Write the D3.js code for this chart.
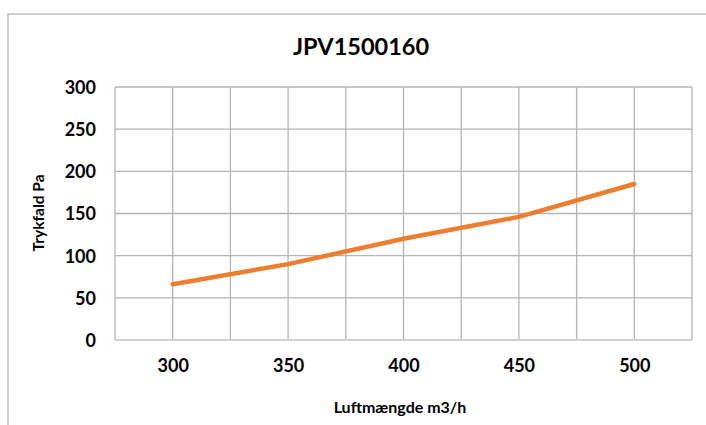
<!DOCTYPE html>
<html><head><meta charset="utf-8">
<script src="https://cdn.jsdelivr.net/npm/d3@7"></script>
<style>
html,body{margin:0;padding:0;background:#fff;}
svg{display:block;font-family:Lato,"Open Sans",sans-serif;}
</style></head>
<body>
<svg id="chart" width="706" height="425"></svg>
<script>
const title = "JPV1500160";
const xLabel = "Luftmængde m3/h";
const yLabel = "Trykfald Pa";
const flow = [300, 350, 400, 450, 500];
const pressure = [66, 90, 120, 146, 185];
const xTickLabels = [300, 350, 400, 450, 500];
const yTicks = [0, 50, 100, 150, 200, 250, 300];
const xGrid = [275, 300, 325, 350, 375, 400, 425, 450, 475, 500, 525];

const svg = d3.select("#chart");
const m = {left: 115, right: 692, top: 87, bottom: 340};

svg.append("rect").attr("x", 8).attr("y", 14).attr("width", 720).attr("height", 430)
  .attr("fill", "#fff").attr("stroke", "#BEBEBE").attr("stroke-width", 1.5);

const x = d3.scaleLinear().domain([275, 525]).range([m.left, m.right]);
const y = d3.scaleLinear().domain([0, 300]).range([m.bottom, m.top]);

// grid
svg.append("g").selectAll("line").data(yTicks.filter(d => d > 0)).join("line")
  .attr("x1", m.left).attr("x2", m.right).attr("y1", d => y(d)).attr("y2", d => y(d))
  .attr("stroke", "#B4B4B4").attr("stroke-width", 1.3);
svg.append("g").selectAll("line").data(xGrid).join("line")
  .attr("x1", d => x(d)).attr("x2", d => x(d)).attr("y1", m.top).attr("y2", m.bottom)
  .attr("stroke", "#B4B4B4").attr("stroke-width", 1.3);
// bottom axis line
svg.append("line").attr("x1", m.left).attr("x2", m.right).attr("y1", m.bottom).attr("y2", m.bottom)
  .attr("stroke", "#D0D0D0").attr("stroke-width", 2);

// y axis labels
const yAxis = d3.axisLeft(y).tickValues(yTicks).tickSize(0).tickPadding(0);
const gy = svg.append("g").attr("transform", `translate(96,0)`).call(yAxis);
gy.select(".domain").remove();
gy.selectAll("text").attr("font-family", "Lato, sans-serif").attr("font-weight", "bold")
  .attr("font-size", 18).attr("fill", "#000").attr("dy", "0.36em");

// x axis labels
const xAxis = d3.axisBottom(x).tickValues(xTickLabels).tickSize(0).tickPadding(0);
const gx = svg.append("g").attr("transform", `translate(0,366)`).call(xAxis);
gx.select(".domain").remove();
gx.selectAll("text").attr("font-family", "Lato, sans-serif").attr("font-weight", "bold")
  .attr("font-size", 18).attr("fill", "#000").attr("dy", "0.36em");

// line
const line = d3.line().x((d, i) => x(flow[i])).y(d => y(d));
svg.append("path").datum(pressure).attr("d", line).attr("fill", "none")
  .attr("stroke", "#ED7D31").attr("stroke-width", 4.5).attr("stroke-linecap", "round")
  .attr("stroke-linejoin", "round");

// titles
svg.append("text").attr("x", 361).attr("y", 55).attr("text-anchor", "middle")
  .attr("font-weight", "bold").attr("font-size", 23.5).attr("fill", "#000").text(title);
svg.append("text").attr("x", 400).attr("y", 413).attr("text-anchor", "middle")
  .attr("font-weight", "bold").attr("font-size", 16).attr("fill", "#000").text(xLabel);
svg.append("text").attr("transform", "translate(44,213) rotate(-90)").attr("text-anchor", "middle")
  .attr("font-weight", "bold").attr("font-size", 15.5).attr("fill", "#000").text(yLabel);
</script>
</body></html>
